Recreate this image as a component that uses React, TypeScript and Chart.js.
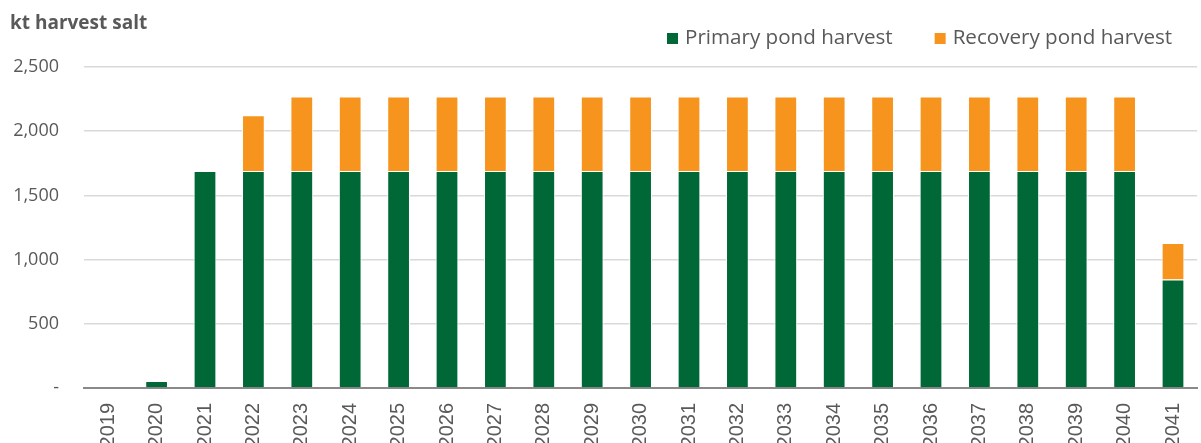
import React, { useEffect, useRef } from "react";
import { Chart, registerables } from "chart.js";

Chart.register(...registerables);

const years = ["2019","2020","2021","2022","2023","2024","2025","2026","2027","2028","2029","2030","2031","2032","2033","2034","2035","2036","2037","2038","2039","2040","2041"];
const primaryHarvest = [0, 55, 1690, 1690, 1690, 1690, 1690, 1690, 1690, 1690, 1690, 1690, 1690, 1690, 1690, 1690, 1690, 1690, 1690, 1690, 1690, 1690, 845];
const recoveryHarvest = [0, 0, 0, 435, 580, 580, 580, 580, 580, 580, 580, 580, 580, 580, 580, 580, 580, 580, 580, 580, 580, 580, 285];
const seriesNames = ["Primary pond harvest", "Recovery pond harvest"];
const seriesColors = ["#006837", "#F7941D"];
const yTicks = [0, 500, 1000, 1500, 2000, 2500];
const chartTitle = "kt harvest salt";

const FONT = '"Open Sans", "DejaVu Sans", sans-serif';
const XFONT = '"Liberation Sans", Arial, sans-serif';
const TEXT = "#595959";

const headerPlugin = {
  id: "header",
  afterDraw(chart: any) {
    const ctx = chart.ctx;
    ctx.save();
    ctx.fillStyle = TEXT;
    ctx.textBaseline = "middle";
    ctx.textAlign = "left";
    ctx.font = `bold 19px ${FONT}`;
    ctx.fillText(chartTitle, 10, 24);
    // legend
    ctx.font = `20.6px ${FONT}`;
    let x = 667;
    chart.data.datasets.forEach((ds: any) => {
      ctx.fillStyle = ds.backgroundColor;
      ctx.fillRect(x, 33, 11, 11);
      ctx.fillStyle = TEXT;
      ctx.fillText(ds.label, x + 18, 38);
      x = x + 18 + ctx.measureText(ds.label).width + 42;
    });
    ctx.restore();
  },
};

export default function App() {
  const ref = useRef<HTMLCanvasElement>(null);
  useEffect(() => {
    if (!ref.current) return;
    const chart = new Chart(ref.current, {
      type: "bar",
      data: {
        labels: years,
        datasets: [
          {
            label: seriesNames[0],
            data: primaryHarvest,
            backgroundColor: seriesColors[0],
            borderColor: "#ffffff",
            borderWidth: 1,
            barPercentage: 0.47,
            categoryPercentage: 1,
          },
          {
            label: seriesNames[1],
            data: recoveryHarvest,
            backgroundColor: seriesColors[1],
            borderColor: "#ffffff",
            borderWidth: 1,
            barPercentage: 0.47,
            categoryPercentage: 1,
          },
        ],
      },
      options: {
        responsive: false,
        animation: false,
        layout: { padding: { top: 67, left: 0, right: 0, bottom: 0 } },
        plugins: {
          legend: { display: false },
          title: { display: false },
          tooltip: { enabled: false },
        },
        scales: {
          x: {
            stacked: true,
            grid: { display: false, drawTicks: false },
            border: { display: true, color: "#898989", width: 2 },
            ticks: {
              color: TEXT,
              font: { family: XFONT, size: 20 },
              minRotation: 90,
              maxRotation: 90,
              autoSkip: false,
              padding: 15,
            },
            afterFit: (s: any) => {
              s.height = 55;
            },
          },
          y: {
            stacked: true,
            min: 0,
            max: 2500,
            afterBuildTicks: (s: any) => {
              s.ticks = yTicks.map((v) => ({ value: v }));
            },
            grid: {
              drawTicks: false,
              color: (c: any) => (c.tick && c.tick.value === 0 ? "rgba(0,0,0,0)" : "#d9d9d9"),
              lineWidth: 1.5,
            },
            border: { display: false },
            ticks: {
              color: TEXT,
              font: { family: FONT, size: 18 },
              padding: 25,
              callback: (v: any) => (Number(v) === 0 ? "-" : Number(v).toLocaleString("en-US")),
            },
            afterFit: (s: any) => {
              s.width = 84;
            },
          },
        },
      },
      plugins: [headerPlugin],
    });
    return () => chart.destroy();
  }, []);
  return (
    <div style={{ position: "fixed", left: 0, top: 0, width: 1201, height: 443, overflow: "hidden", background: "#fff" }}>
      <canvas ref={ref} width={1212} height={443} style={{ width: 1212, height: 443, display: "block" }} />
    </div>
  );
}
